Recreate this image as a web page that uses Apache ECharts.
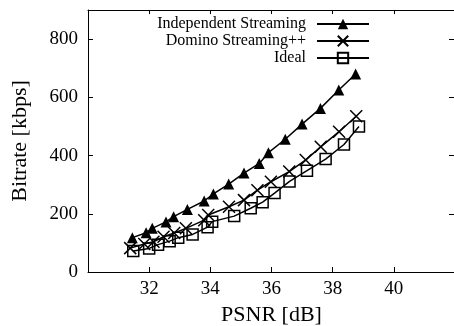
<!DOCTYPE html>
<html>
  <head>
    <meta charset="utf-8" />
    <title>ECharts</title>
    <script src="https://cdn.jsdelivr.net/npm/echarts@6/dist/echarts.min.js"></script>
  </head>
  <body style="margin: 0">
    <div id="main" style="width: 454px; height: 326px"></div>
  </body>

  <script>
    // values
    var indepPsnr = [31.45, 31.9, 32.1, 32.55, 32.8, 33.25, 33.8, 34.1, 34.6, 35.1, 35.6, 35.9, 36.45, 37.0, 37.6, 38.2, 38.75];
    var indepRate = [118, 135, 150, 172, 190, 215, 244, 268, 302, 340, 373, 410, 456, 508, 562, 625, 680];

    var dominoPsnr = [31.38, 31.84, 32.14, 32.47, 32.82, 33.2, 33.8, 33.93, 34.61, 35.1, 35.54, 35.98, 36.58, 37.12, 37.61, 38.21, 38.77];
    var dominoRate = [82, 96, 104, 121, 134, 150, 178, 196, 224, 247, 281, 310, 345, 385, 430, 482, 535];

    var idealPsnr = [31.48, 32.0, 32.29, 32.67, 32.95, 33.42, 33.91, 34.06, 34.78, 35.32, 35.71, 36.1, 36.59, 37.16, 37.77, 38.37, 38.86];
    var idealRate = [72, 81, 94, 106, 118, 129, 154, 173, 192, 219, 240, 271, 311, 348, 388, 438, 500];

    var seriesNames = ["Independent Streaming", "Domino Streaming++", "Ideal"];

    function pairs(xs, ys) {
      return xs.map(function (x, i) {
        return [x, ys[i]];
      });
    }

    var font = "Liberation Serif";
    var myChart = echarts.init(document.getElementById("main"));

    var option = {
      backgroundColor: "#fff",
      animation: false,
      grid: { left: 88, top: 10, right: -1, bottom: 54, outerBoundsMode: "none" },
      legend: {
        orient: "vertical",
        align: "right",
        right: 79,
        top: 11,
        padding: 5,
        itemWidth: 52,
        itemHeight: 13,
        itemGap: 1,
        data: seriesNames,
        textStyle: { fontFamily: font, fontSize: 16, lineHeight: 13, color: "#000", padding: [0, 6, 0, 0] },
      },
      xAxis: [
        {
          type: "value",
          min: 30,
          max: 42,
          interval: 2,
          name: "PSNR [dB]",
          nameLocation: "middle",
          nameGap: 30,
          nameTextStyle: { fontFamily: font, fontSize: 22, color: "#000" },
          axisLine: { show: true, onZero: false, lineStyle: { color: "#000", width: 1 } },
          axisTick: { inside: true, length: 5, lineStyle: { color: "#000" } },
          axisLabel: {
            fontFamily: font,
            fontSize: 19,
            color: "#000",
            margin: 8,
            showMinLabel: false,
            showMaxLabel: false,
          },
          splitLine: { show: false },
        },
        {
          type: "value",
          position: "top",
          min: 30,
          max: 42,
          interval: 2,
          axisLine: { show: true, onZero: false, lineStyle: { color: "#000", width: 1 } },
          axisTick: { inside: true, length: 4, lineStyle: { color: "#000" } },
          axisLabel: { show: false },
          splitLine: { show: false },
        },
      ],
      yAxis: [
        {
          type: "value",
          min: 0,
          max: 900,
          interval: 200,
          name: "Bitrate [kbps]",
          nameLocation: "middle",
          nameGap: 57,
          nameTextStyle: { fontFamily: font, fontSize: 22, color: "#000" },
          axisLine: { show: true, onZero: false, lineStyle: { color: "#000", width: 1 } },
          axisTick: { show: true, inside: true, length: 5, lineStyle: { color: "#000" } },
          axisLabel: {
            fontFamily: font,
            fontSize: 19,
            color: "#000",
            margin: 10,
            showMaxLabel: false,
          },
          splitLine: { show: false },
        },
        {
          type: "value",
          position: "right",
          min: 0,
          max: 900,
          interval: 200,
          axisLine: { show: true, onZero: false, lineStyle: { color: "#000", width: 1 } },
          axisTick: { show: true, inside: true, length: 6, lineStyle: { color: "#000" } },
          axisLabel: { show: false },
          splitLine: { show: false },
        },
      ],
      series: [
        {
          name: seriesNames[0],
          type: "line",
          data: pairs(indepPsnr, indepRate),
          symbol: "triangle",
          symbolSize: 11,
          lineStyle: { color: "#000", width: 1.5 },
          itemStyle: { color: "#000" },
        },
        {
          name: seriesNames[1],
          type: "line",
          data: pairs(dominoPsnr, dominoRate),
          symbol: "path://M0,0L10,10M10,0L0,10",
          symbolSize: 12,
          lineStyle: { color: "#000", width: 1.5 },
          itemStyle: { color: "rgba(0,0,0,0)", borderColor: "#000", borderWidth: 1.5 },
        },
        {
          name: seriesNames[2],
          type: "line",
          data: pairs(idealPsnr, idealRate),
          symbol: "rect",
          symbolSize: 11,
          lineStyle: { color: "#000", width: 1.5 },
          itemStyle: { color: "rgba(0,0,0,0)", borderColor: "#000", borderWidth: 1.5 },
        },
      ],
    };

    myChart.setOption(option);
  </script>
</html>
